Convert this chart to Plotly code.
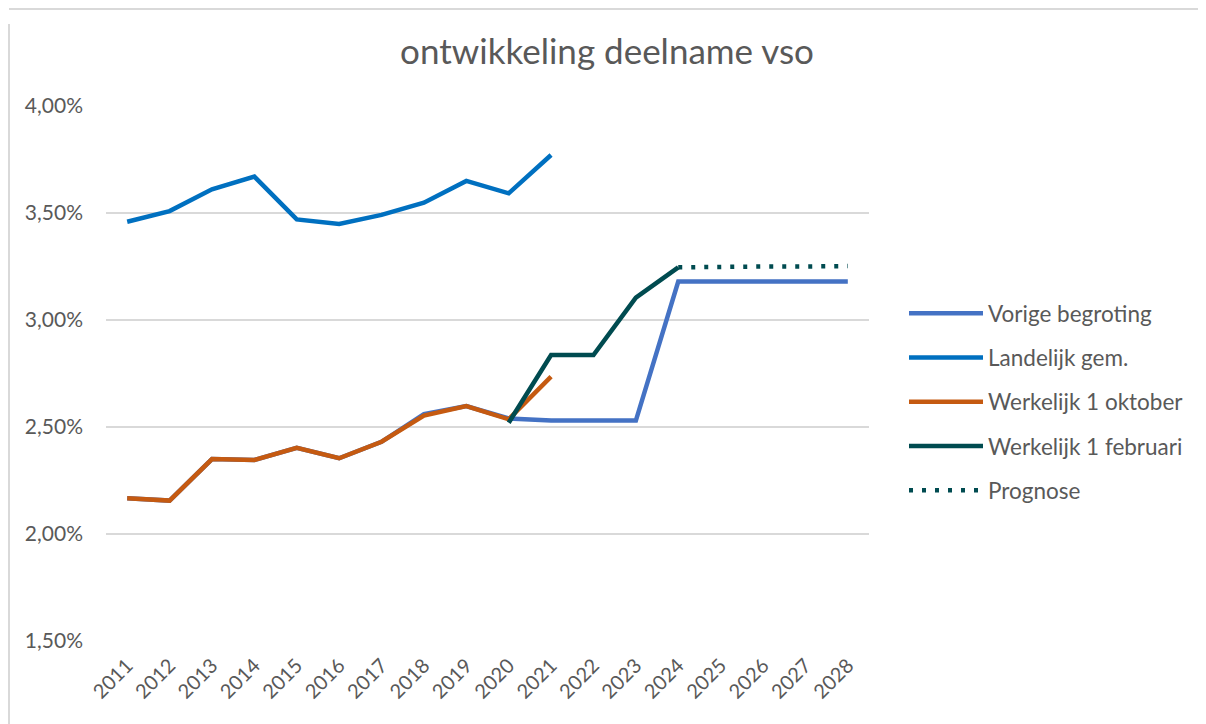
import plotly.graph_objects as go

years = [str(y) for y in range(2011, 2029)]

vorige_begroting = [2.167, 2.156, 2.350, 2.346, 2.403, 2.354, 2.431, 2.560, 2.598, 2.540,
                    2.530, 2.530, 2.530, 3.180, 3.180, 3.180, 3.180, 3.180]
landelijk_gem = [3.459, 3.509, 3.611, 3.670, 3.470, 3.449, 3.491, 3.548, 3.650, 3.592, 3.771,
                 None, None, None, None, None, None, None]
werkelijk_okt = [2.167, 2.156, 2.350, 2.346, 2.403, 2.354, 2.431, 2.553, 2.598, 2.536, 2.735,
                 None, None, None, None, None, None, None]
werkelijk_feb = [None, None, None, None, None, None, None, None, None, 2.520, 2.836, 2.836,
                 3.104, 3.246, None, None, None, None]
prognose = [None, None, None, None, None, None, None, None, None, None, None, None, None,
            3.246, 3.250, 3.250, 3.250, 3.252]

y_tickvals = [1.5, 2.0, 2.5, 3.0, 3.5, 4.0]
y_ticktext = ["1,50%", "2,00%", "2,50%", "3,00%", "3,50%", "4,00%"]

FONT = "Lato, 'Open Sans', sans-serif"
GREY = "#595959"

series = [
    ("Vorige begroting", vorige_begroting, "#4472C4", "solid"),
    ("Landelijk gem.", landelijk_gem, "#0070C0", "solid"),
    ("Werkelijk 1 oktober", werkelijk_okt, "#C55A11", "solid"),
    ("Werkelijk 1 februari", werkelijk_feb, "#004B50", "solid"),
    ("Prognose", prognose, "#004B50", "4px,9px"),
]

fig = go.Figure()
for name, vals, color, dash in series:
    fig.add_trace(go.Scatter(
        x=years, y=vals, name=name, mode="lines", legendgroup=name,
        line=dict(color=color, width=4.5, dash=dash),
        connectgaps=False, hoverinfo="skip",
    ))

W, H = 1198, 716
L, R, T, B = 98, 337, 98, 83
PW = W - L - R
PH = H - T - B

fig.update_layout(
    width=W, height=H,
    margin=dict(l=L, r=R, t=T, b=B),
    paper_bgcolor="white", plot_bgcolor="white",
    title=dict(text="ontwikkeling deelname vso", x=0.5, xanchor="center",
               y=1 - 44 / H, yanchor="middle", yref="container",
               font=dict(family=FONT, size=35, color=GREY)),
    font=dict(family=FONT, size=19, color=GREY),
    showlegend=True,
    legend=dict(x=798 / PW, xanchor="left", y=0.4467, yanchor="middle",
                font=dict(family=FONT, size=22.5, color=GREY),
                tracegroupgap=12, itemwidth=74, bgcolor="rgba(0,0,0,0)"),
    xaxis=dict(type="category", range=[-0.5, 17.5], showgrid=False, zeroline=False,
               showline=False, tickangle=-45, ticks="", ticklabelstandoff=8,
               tickfont=dict(family=FONT, size=20, color=GREY)),
    yaxis=dict(range=[1.5, 4.0], tickvals=y_tickvals, ticktext=y_ticktext,
               showgrid=True, gridcolor="#d9d9d9", gridwidth=2, zeroline=False,
               showline=False, ticks="", ticklabelstandoff=22,
               tickfont=dict(family=FONT, size=21, color=GREY)),
    shapes=[
        dict(type="line", xref="paper", yref="paper",
             x0=(1 - L) / PW, x1=(1 - L) / PW, y0=-B / PH, y1=(H - T - 1) / PH,
             line=dict(color="#d9d9d9", width=2)),
        dict(type="line", xref="paper", yref="paper",
             x0=(1 - L) / PW, x1=(W - L) / PW, y0=(PH + T - 1) / PH, y1=(PH + T - 1) / PH,
             line=dict(color="#d9d9d9", width=2)),
    ],
)

fig.write_html("out.html")
